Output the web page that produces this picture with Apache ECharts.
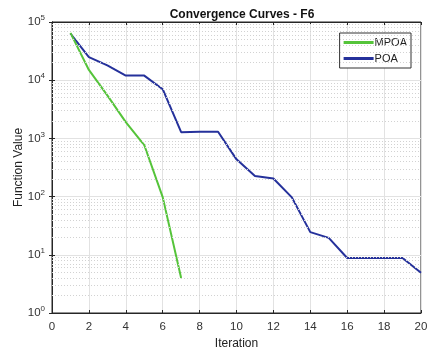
<!DOCTYPE html>
<html>
<head>
<meta charset="utf-8">
<script src="https://cdn.jsdelivr.net/npm/echarts@6/dist/echarts.min.js"></script>
<style>
  html, body { margin: 0; padding: 0; background: #fff; }
  #chart { width: 437px; height: 350px; }
</style>
</head>
<body>
<div id="chart"></div>
<script>
const iterations = [1, 2, 3, 4, 5, 6, 7, 8, 9, 10, 11, 12, 13, 14, 15, 16, 17, 18, 19, 20];
const mpoaValues = [65000, 15000, 5500, 1900, 770, 98, 4.0];
const poaValues = [63000, 25000, 18000, 12000, 12000, 7000, 1280, 1300, 1300, 437, 225, 205, 97, 24.5, 19.5, 8.8, 8.8, 8.8, 8.8, 4.9];
const seriesNames = ['MPOA', 'POA'];

// minor grid at 2..9 of each decade
const minorGrid = [];
for (let k = 0; k < 5; k++) {
  for (let m = 2; m <= 9; m++) minorGrid.push(m * Math.pow(10, k));
}

const chart = echarts.init(document.getElementById('chart'), null, { renderer: 'canvas' });

const font = 'Liberation Sans, Arial, sans-serif';
const frameColor = '#262626';

const option = {
  backgroundColor: '#fff',
  animation: false,
  textStyle: { fontFamily: font },
  title: {
    text: 'Convergence Curves - F6',
    left: 237,
    top: 4,
    textAlign: 'center',
    textStyle: { fontSize: 12, fontWeight: 'bold', color: '#111', fontFamily: font }
  },
  legend: {
    data: seriesNames,
    orient: 'vertical',
    right: 26,
    top: 33,
    itemWidth: 30,
    itemHeight: 3,
    itemGap: 5,
    padding: [4, 4, 4, 4],
    borderColor: '#333',
    borderWidth: 1,
    backgroundColor: '#fff',
    icon: 'rect',
    textStyle: { fontSize: 11, color: '#222', padding: [0, 0, 0, -4] }
  },
  grid: {
    left: 52, right: 16, top: 22, bottom: 37,
    containLabel: false,
    outerBoundsMode: 'none',
    show: true, borderColor: frameColor, borderWidth: 1
  },
  xAxis: [{
    type: 'value',
    min: 0,
    max: 20,
    interval: 2,
    name: 'Iteration',
    nameLocation: 'middle',
    nameGap: 25,
    nameMoveOverlap: false,
    nameTextStyle: { fontSize: 12, color: '#222' },
    axisLine: { show: true, onZero: false, lineStyle: { color: frameColor } },
    axisTick: { show: true, inside: true, length: 3, lineStyle: { color: frameColor } },
    axisLabel: { fontSize: 11.5, color: '#333', margin: 8 },
    splitLine: { show: true, lineStyle: { color: '#e2e2e2', width: 1 } }
  }, {
    type: 'value',
    position: 'top',
    min: 0,
    max: 20,
    interval: 2,
    axisLine: { show: true, lineStyle: { color: frameColor } },
    axisTick: { show: true, inside: true, length: 3, lineStyle: { color: frameColor } },
    axisLabel: { show: false },
    splitLine: { show: false }
  }],
  yAxis: [{
    type: 'log',
    logBase: 10,
    min: 1,
    max: 100000,
    name: 'Function Value',
    nameLocation: 'middle',
    nameGap: 27,
    nameMoveOverlap: false,
    nameTextStyle: { fontSize: 12, color: '#222' },
    axisLine: { show: true, onZero: false, lineStyle: { color: frameColor } },
    axisTick: { show: true, inside: true, length: 3, lineStyle: { color: frameColor } },
    axisLabel: {
      color: '#333',
      margin: 7,
      formatter: function (v) {
        return '{b|10}{s|' + Math.round(Math.log10(v)) + '}';
      },
      rich: {
        b: { fontSize: 11.5, color: '#333', fontFamily: font },
        s: { fontSize: 8, color: '#333', fontFamily: font, verticalAlign: 'top', padding: [0, 0, 8, 0] }
      }
    },
    splitLine: { show: true, lineStyle: { color: '#e2e2e2', width: 1 } }
  }, {
    type: 'log',
    logBase: 10,
    min: 1,
    max: 100000,
    position: 'right',
    axisLine: { show: true, lineStyle: { color: frameColor } },
    axisTick: { show: true, inside: true, length: 3, lineStyle: { color: frameColor } },
    axisLabel: { show: false },
    splitLine: { show: false }
  }],
  series: [
    {
      name: 'minor',
      type: 'line',
      data: [],
      silent: true,
      z: 1,
      markLine: {
        silent: true,
        symbol: 'none',
        label: { show: false },
        lineStyle: { color: '#d2d2d2', type: [1, 2], width: 1 },
        data: minorGrid.map(v => ({ yAxis: v }))
      }
    },
    {
      name: seriesNames[0],
      type: 'line',
      data: mpoaValues.map((v, i) => [iterations[i], v]),
      showSymbol: false,
      z: 4,
      lineStyle: { color: '#55c43a', width: 2 },
      itemStyle: { color: '#55c43a' }
    },
    {
      name: seriesNames[1],
      type: 'line',
      data: poaValues.map((v, i) => [iterations[i], v]),
      showSymbol: false,
      z: 3,
      lineStyle: { color: '#25319b', width: 2 },
      itemStyle: { color: '#25319b' }
    }
  ]
};

chart.setOption(option);
</script>
</body>
</html>
